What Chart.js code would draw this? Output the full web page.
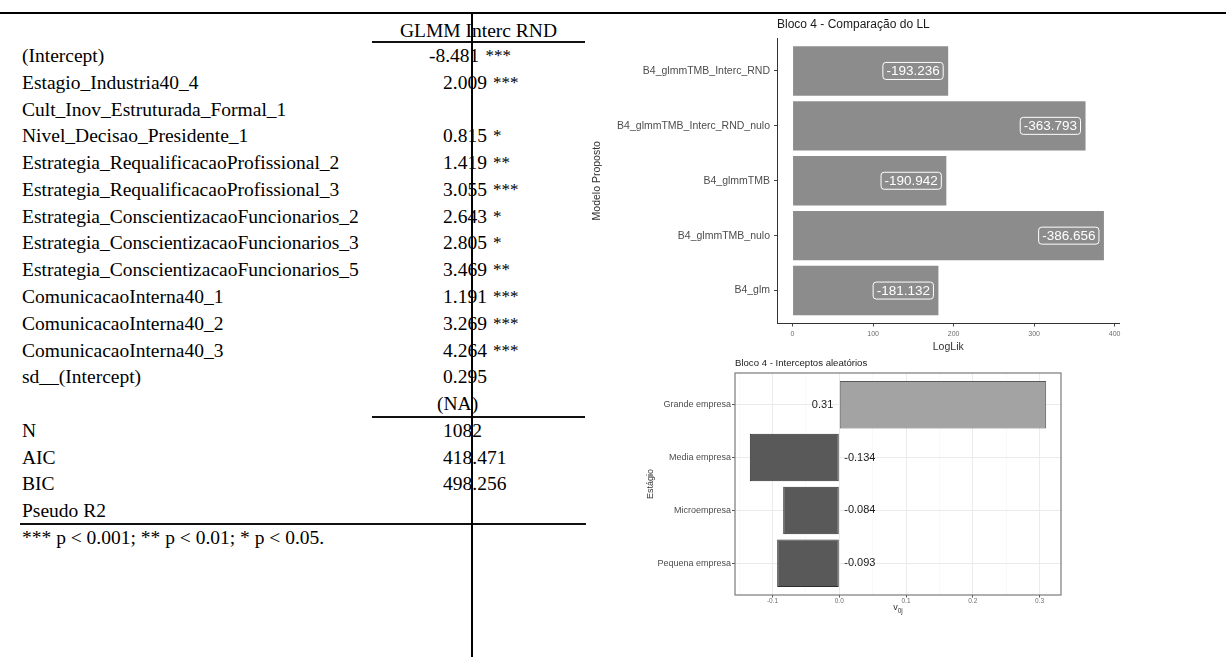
<!DOCTYPE html>
<html>
<head>
<meta charset="utf-8">
<script src="https://cdn.jsdelivr.net/npm/chart.js@4/dist/chart.umd.min.js"></script>
<style>
  html, body { margin: 0; padding: 0; background: #fff; }
  body { width: 1226px; height: 657px; position: relative; overflow: hidden; }
  .rule { position: absolute; background: #000; }
  #tbl { position: absolute; left: 0; top: 0; width: 600px; height: 657px;
         font-family: "Liberation Serif", "Times New Roman", serif; font-size: 19.5px; color: #000; }
  .cell { position: absolute; height: 26px; line-height: 26px; white-space: nowrap; }
  .stars { font-size: 17px; position: relative; top: -1px; margin-left: 6px; }
  canvas { position: absolute; }
</style>
</head>
<body>
<div id="tbl"></div>
<canvas id="llChart" width="540" height="345" style="left:590px;top:14px;width:540px;height:345px"></canvas>
<canvas id="reChart" width="450" height="272" style="left:620px;top:352px;width:450px;height:272px"></canvas>
<div class="rule" style="left:0;top:12px;width:1226px;height:2px"></div>
<div class="rule" style="left:471px;top:12px;width:2px;height:645px"></div>
<script>
// ---- regression table (GLMM with random intercept) ----
const termNames = [
  '(Intercept)', 'Estagio_Industria40_4', 'Cult_Inov_Estruturada_Formal_1',
  'Nivel_Decisao_Presidente_1', 'Estrategia_RequalificacaoProfissional_2',
  'Estrategia_RequalificacaoProfissional_3', 'Estrategia_ConscientizacaoFuncionarios_2',
  'Estrategia_ConscientizacaoFuncionarios_3', 'Estrategia_ConscientizacaoFuncionarios_5',
  'ComunicacaoInterna40_1', 'ComunicacaoInterna40_2', 'ComunicacaoInterna40_3',
  'sd__(Intercept)'
];
const termEstimates = ['-8.481', '2.009', '', '0.815', '1.419', '3.055', '2.643',
                       '2.805', '3.469', '1.191', '3.269', '4.264', '0.295'];
const termStars = ['***', '***', '', '*', '**', '***', '*', '*', '**', '***', '***', '***', ''];
const sdStdError = '(NA)';
const gofNames = ['N', 'AIC', 'BIC', 'Pseudo R2'];
const gofValues = ['1082', '418.471', '498.256', ''];
const modelName = 'GLMM Interc RND';
const footnote = '*** p < 0.001; ** p < 0.01; * p < 0.05.';

// ---- log-likelihood comparison ----
const llModels = ['B4_glmmTMB_Interc_RND', 'B4_glmmTMB_Interc_RND_nulo', 'B4_glmmTMB',
                  'B4_glmmTMB_nulo', 'B4_glm'];
const llValues = [-193.236, -363.793, -190.942, -386.656, -181.132];
const llTicks = [0, 100, 200, 300, 400];

// ---- random intercepts by company size ----
const portes = ['Grande empresa', 'Media empresa', 'Microempresa', 'Pequena empresa'];
const interceptos = [0.31, -0.134, -0.084, -0.093];
const interceptTicks = [-0.1, 0, 0.1, 0.2, 0.3];

// ================= table =================
const tbl = document.getElementById('tbl');
function cell(text, left, cy, extra) {
  const d = document.createElement('div');
  d.className = 'cell';
  d.style.left = left + 'px';
  d.style.top = (cy - 13) + 'px';
  d.textContent = text;
  if (extra) extra(d);
  tbl.appendChild(d);
  return d;
}
function hline(left, top, width) {
  const d = document.createElement('div');
  d.className = 'rule';
  d.style.cssText = `left:${left}px;top:${top}px;width:${width}px;height:1.5px;background:#111`;
  tbl.appendChild(d);
}
const rowY0 = 56, rowStep = 26.78, labelX = 22, valueX = 443;
function valueCell(val, stars, cy) {
  if (!val) return;
  const d = cell(val, valueX, cy);
  if (val.startsWith('-')) d.style.left = (valueX - 14) + 'px';
  if (stars) {
    const s = document.createElement('span');
    s.className = 'stars';
    s.textContent = stars;
    d.appendChild(s);
  }
}
// header
cell(modelName, 0, 31, d => { d.style.left = '372px'; d.style.width = '213px'; d.style.textAlign = 'center'; });
hline(372, 41, 213);
termNames.forEach((name, i) => {
  const cy = rowY0 + i * rowStep;
  cell(name, labelX, cy);
  valueCell(termEstimates[i], termStars[i], cy);
});
const naY = rowY0 + termNames.length * rowStep;
cell(sdStdError, 437, naY);
hline(372, 416, 213);
gofNames.forEach((name, i) => {
  const cy = naY + (i + 1) * rowStep;
  cell(name, labelX, cy);
  valueCell(gofValues[i], '', cy);
});
hline(20, 523, 566);
cell(footnote, labelX, naY + (gofNames.length + 1) * rowStep);

// ================= charts =================
const SANS = '"Liberation Sans", Arial, sans-serif';

// panel title drawn flush with the plotting area
const panelTitle = {
  id: 'panelTitle',
  afterDraw(chart, args, opts) {
    const { ctx, chartArea } = chart;
    ctx.save();
    ctx.font = `${opts.size}px ${SANS}`;
    ctx.fillStyle = '#1a1a1a';
    ctx.textAlign = 'left';
    ctx.textBaseline = 'middle';
    ctx.fillText(opts.text, chartArea.left, opts.y);
    ctx.restore();
  }
};

// boxed value labels at the end of each LogLik bar
const llLabels = {
  id: 'llLabels',
  afterDatasetsDraw(chart) {
    const { ctx } = chart;
    const meta = chart.getDatasetMeta(0);
    ctx.save();
    ctx.font = `13.5px ${SANS}`;
    ctx.textBaseline = 'middle';
    ctx.textAlign = 'right';
    meta.data.forEach((bar, i) => {
      const txt = llValues[i].toFixed(3);
      const w = ctx.measureText(txt).width;
      const right = bar.x - 5, h = 17, padX = 3.5;
      const left = right - w - 2 * padX, top = bar.y - h / 2;
      ctx.beginPath();
      ctx.roundRect(left, top, right - left, h, 3);
      ctx.strokeStyle = '#ffffff';
      ctx.lineWidth = 1;
      ctx.stroke();
      ctx.fillStyle = '#ffffff';
      ctx.fillText(txt, right - padX, bar.y + 0.5);
    });
    ctx.restore();
  }
};

new Chart(document.getElementById('llChart'), {
  type: 'bar',
  data: {
    datasets: [{
      data: llValues.map((v, i) => ({ x: Math.abs(v), y: i })),
      backgroundColor: '#8c8c8c',
      borderWidth: 0,
      barPercentage: 0.9,
      categoryPercentage: 1
    }]
  },
  options: {
    indexAxis: 'y',
    responsive: false,
    animation: false,
    devicePixelRatio: 1,
    layout: { padding: { top: 24, right: 10.5, left: 0, bottom: 0 } },
    plugins: {
      legend: { display: false },
      tooltip: { enabled: false },
      panelTitle: { text: 'Bloco 4 - Comparação do LL', size: 12, y: 11 }
    },
    scales: {
      x: {
        type: 'linear', min: -19.333, max: 405.99,
        afterBuildTicks: s => { s.ticks = llTicks.map(v => ({ value: v })); },
        afterFit: s => { s.height = 35.5; },
        ticks: { font: { family: SANS, size: 7 }, color: '#6b6b6b', padding: 3,
                 autoSkip: false, maxRotation: 0, callback: v => String(v) },
        grid: { drawOnChartArea: false, tickLength: 3, color: '#444', tickColor: '#444' },
        border: { display: true, color: '#333', width: 1 },
        title: { display: true, text: 'LogLik', font: { family: SANS, size: 10.5 },
                 color: '#333', padding: { top: 0, bottom: 6 } }
      },
      y: {
        type: 'linear', min: -0.6, max: 4.6, reverse: true, offset: false,
        afterBuildTicks: s => { s.ticks = llModels.map((_, i) => ({ value: i })); },
        afterFit: s => { s.width = 187; },
        ticks: { font: { family: SANS, size: 10.5 }, color: '#4d4d4d', padding: 4,
                 autoSkip: false, callback: v => llModels[v] },
        grid: { offset: false, drawOnChartArea: false, tickLength: 3, color: '#444', tickColor: '#444' },
        border: { display: true, color: '#333', width: 1 },
        title: { display: true, text: 'Modelo Proposto', font: { family: SANS, size: 10.5 },
                 color: '#333', padding: { top: 1, bottom: 0 } }
      }
    }
  },
  plugins: [panelTitle, llLabels]
});

// value labels beside the zero line + panel frame + subscripted x title
const reExtras = {
  id: 'reExtras',
  afterDatasetsDraw(chart) {
    const { ctx, chartArea, scales } = chart;
    const x0 = scales.x.getPixelForValue(0);
    ctx.save();
    ctx.font = `11px ${SANS}`;
    ctx.fillStyle = '#1a1a1a';
    ctx.textBaseline = 'middle';
    interceptos.forEach((v, i) => {
      const y = scales.y.getPixelForValue(i);
      if (v >= 0) { ctx.textAlign = 'right'; ctx.fillText(String(v), x0 - 6, y); }
      else { ctx.textAlign = 'left'; ctx.fillText(String(v), x0 + 5, y); }
    });
    ctx.strokeStyle = '#7a7a7a';
    ctx.lineWidth = 1.2;
    ctx.strokeRect(chartArea.left, chartArea.top, chartArea.right - chartArea.left,
                   chartArea.bottom - chartArea.top);
    // x axis title: v with subscript 0j
    const cx = (chartArea.left + chartArea.right) / 2;
    ctx.fillStyle = '#333';
    ctx.textAlign = 'left';
    ctx.font = `9px ${SANS}`;
    const vw = ctx.measureText('v').width;
    ctx.font = `6.5px ${SANS}`;
    const sw = ctx.measureText('0j').width;
    const start = cx - (vw + sw) / 2;
    ctx.font = `9px ${SANS}`;
    ctx.fillText('v', start, 256);
    ctx.font = `6.5px ${SANS}`;
    ctx.fillText('0j', start + vw, 259);
    ctx.restore();
  }
};

const reGridTicks = [-0.15, -0.1, -0.05, 0, 0.05, 0.1, 0.15, 0.2, 0.25, 0.3];
const isMajor = v => interceptTicks.some(t => Math.abs(t - v) < 1e-9);

new Chart(document.getElementById('reChart'), {
  type: 'bar',
  data: {
    datasets: [{
      data: interceptos.map((v, i) => ({ x: v, y: i })),
      backgroundColor: interceptos.map(v => v >= 0 ? '#a3a3a3' : '#595959'),
      borderColor: interceptos.map(v => v >= 0 ? '#5a5a5a' : '#2e2e2e'),
      borderWidth: 1,
      borderSkipped: false,
      barPercentage: 0.9,
      categoryPercentage: 1
    }]
  },
  options: {
    indexAxis: 'y',
    responsive: false,
    animation: false,
    devicePixelRatio: 1,
    layout: { padding: { top: 21, right: 9, left: 0, bottom: 0 } },
    plugins: {
      legend: { display: false },
      tooltip: { enabled: false },
      panelTitle: { text: 'Bloco 4 - Interceptos aleatórios', size: 9.6, y: 11 }
    },
    scales: {
      x: {
        type: 'linear', min: -0.1562, max: 0.3322,
        afterBuildTicks: s => { s.ticks = reGridTicks.map(v => ({ value: v })); },
        afterFit: s => { s.height = 29; },
        ticks: { font: { family: SANS, size: 6.5 }, color: '#6b6b6b', padding: 0,
                 autoSkip: false, maxRotation: 0,
                 callback: v => isMajor(v) ? v.toFixed(1) : '' },
        grid: {
          drawOnChartArea: true, tickLength: 2.5,
          color: c => isMajor(c.tick.value) ? '#ebebeb' : '#f5f5f5',
          lineWidth: c => isMajor(c.tick.value) ? 1 : 0.6,
          tickColor: c => isMajor(c.tick.value) ? '#555' : 'rgba(0,0,0,0)'
        },
        border: { display: false }
      },
      y: {
        type: 'linear', min: -0.6, max: 3.6, reverse: true, offset: false,
        afterBuildTicks: s => { s.ticks = portes.map((_, i) => ({ value: i })); },
        afterFit: s => { s.width = 115; },
        ticks: { font: { family: SANS, size: 9 }, color: '#4d4d4d', padding: 1,
                 autoSkip: false, callback: v => portes[v] },
        grid: { offset: false, drawOnChartArea: true, tickLength: 3, color: '#ebebeb', tickColor: '#555' },
        border: { display: false },
        title: { display: true, text: 'Estágio', font: { family: SANS, size: 9 },
                 color: '#333', padding: { top: 25, bottom: 0 } }
      }
    }
  },
  plugins: [panelTitle, reExtras]
});
</script>
</body>
</html>
